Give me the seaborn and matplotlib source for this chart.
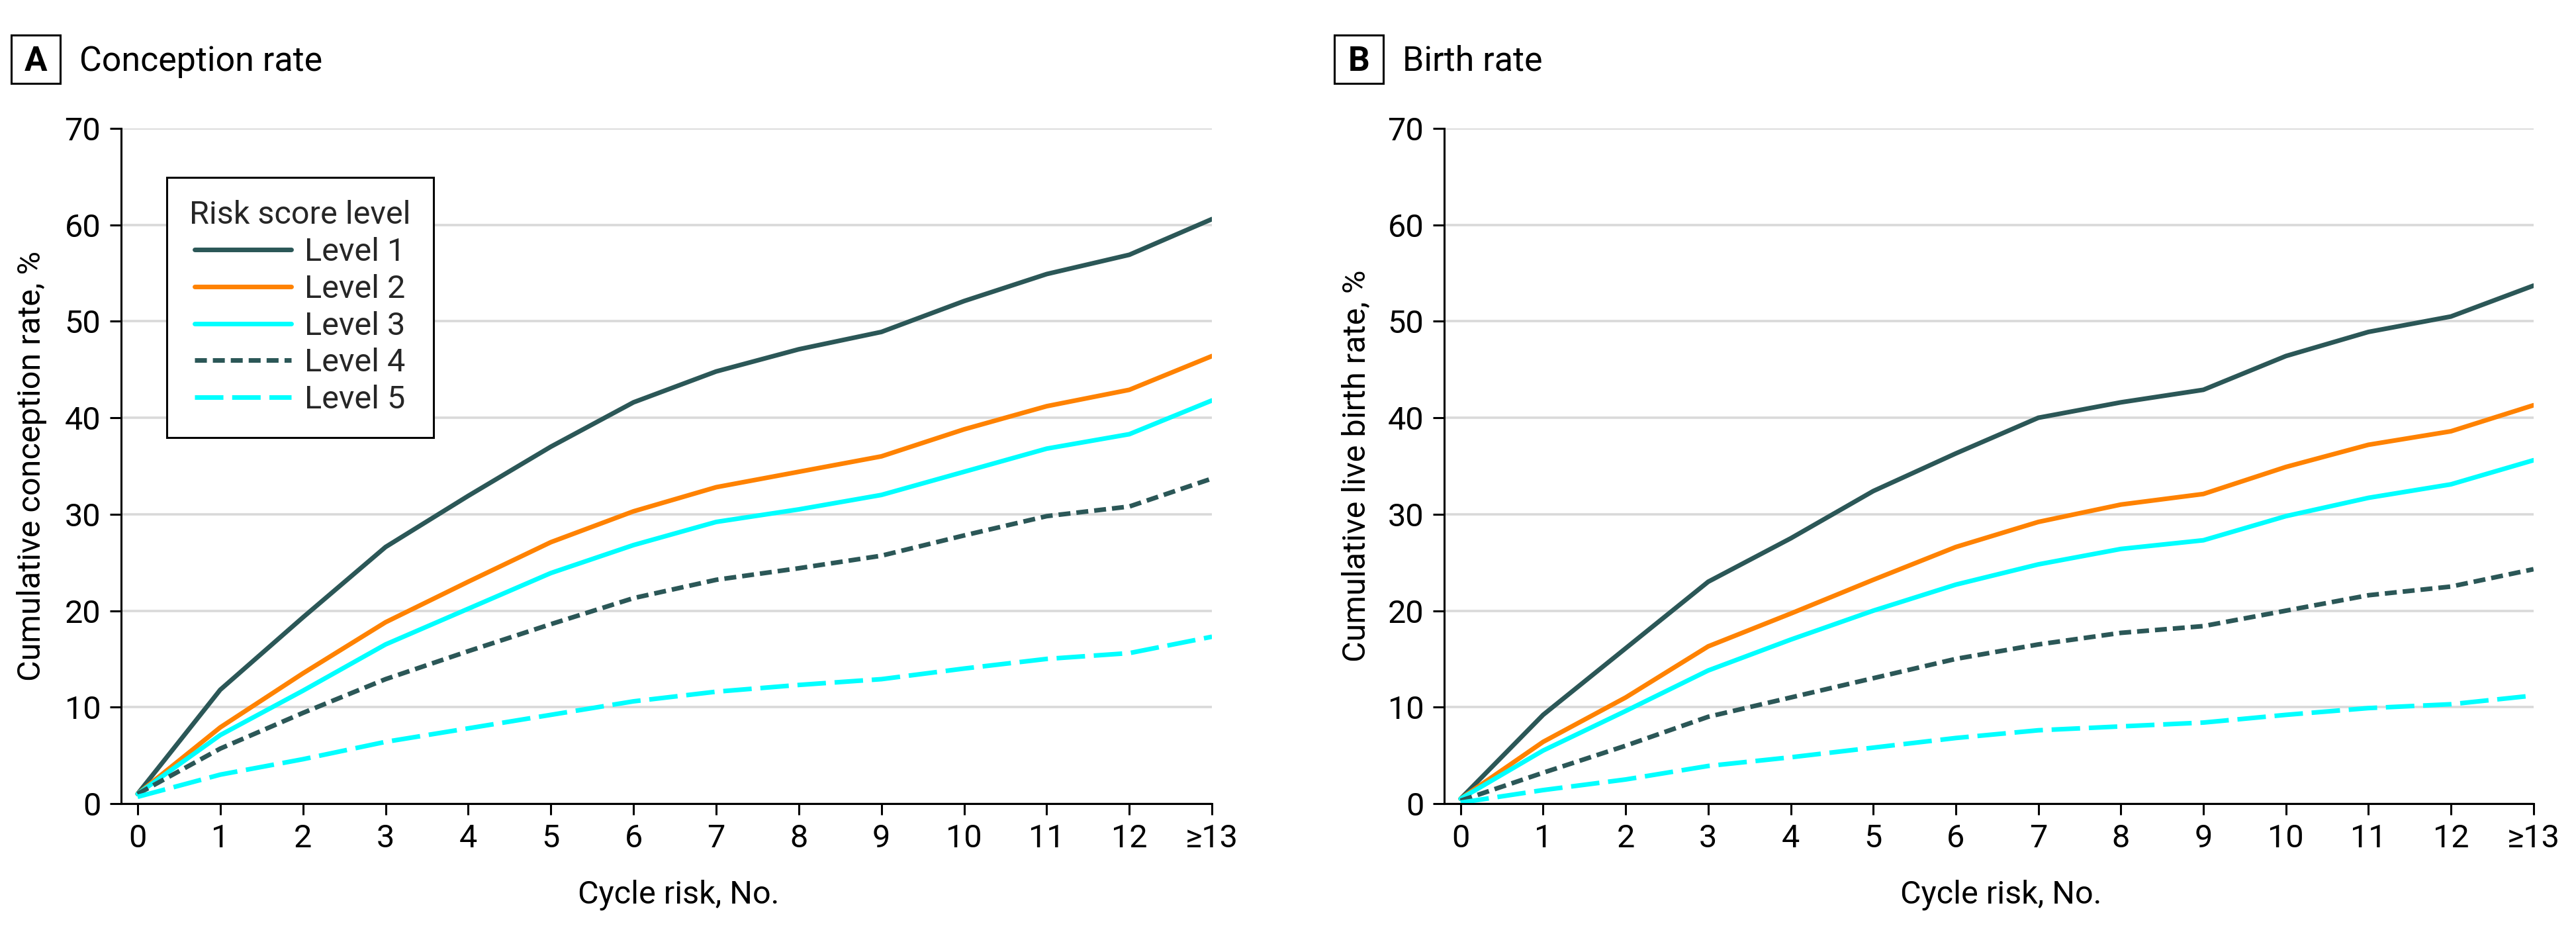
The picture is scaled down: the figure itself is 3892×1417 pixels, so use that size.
import numpy as np
import pandas as pd
import seaborn as sns
import matplotlib.pyplot as plt
from matplotlib.lines import Line2D
from matplotlib.patches import Rectangle

sns.set_theme(style="ticks")
plt.rcParams["font.family"] = ["Roboto", "DejaVu Sans"]

# data ------------------------------------------------------------------------
cycles = list(range(14))
cycle_labels = ["0", "1", "2", "3", "4", "5", "6", "7", "8", "9", "10", "11", "12", "≥13"]
levels = ["Level 1", "Level 2", "Level 3", "Level 4", "Level 5"]

conc_l1 = [1.0, 11.8, 19.3, 26.6, 31.9, 37.0, 41.6, 44.8, 47.1, 48.9, 52.1, 54.9, 56.9, 60.6]
conc_l2 = [1.0, 7.9, 13.5, 18.8, 23.0, 27.1, 30.3, 32.8, 34.4, 36.0, 38.8, 41.2, 42.9, 46.4]
conc_l3 = [1.0, 7.1, 11.7, 16.5, 20.2, 23.9, 26.8, 29.2, 30.5, 32.0, 34.4, 36.8, 38.3, 41.8]
conc_l4 = [1.0, 5.7, 9.4, 12.9, 15.8, 18.6, 21.3, 23.2, 24.4, 25.7, 27.8, 29.8, 30.8, 33.7]
conc_l5 = [0.7, 3.0, 4.6, 6.4, 7.8, 9.2, 10.6, 11.6, 12.3, 12.9, 14.0, 15.0, 15.6, 17.3]

birth_l1 = [0.5, 9.2, 16.1, 23.0, 27.5, 32.4, 36.3, 40.0, 41.6, 42.9, 46.4, 48.9, 50.5, 53.7]
birth_l2 = [0.5, 6.4, 11.0, 16.3, 19.7, 23.2, 26.6, 29.2, 31.0, 32.1, 34.9, 37.2, 38.6, 41.3]
birth_l3 = [0.5, 5.5, 9.6, 13.8, 17.0, 20.0, 22.7, 24.8, 26.4, 27.3, 29.8, 31.7, 33.1, 35.6]
birth_l4 = [0.3, 3.2, 6.0, 9.0, 11.0, 13.0, 15.0, 16.5, 17.7, 18.4, 20.0, 21.6, 22.5, 24.3]
birth_l5 = [0.1, 1.4, 2.5, 3.9, 4.8, 5.8, 6.8, 7.6, 8.0, 8.4, 9.2, 9.9, 10.3, 11.2]

# styles ------------------------------------------------------------------------
DARK, ORANGE, CYAN = "#2b5757", "#ff8200", "#00ffff"
palette = {"Level 1": DARK, "Level 2": ORANGE, "Level 3": CYAN, "Level 4": DARK, "Level 5": CYAN}
dashes = {"Level 1": "", "Level 2": "", "Level 3": "", "Level 4": (2.6, 1.3), "Level 5": (6.2, 1.9)}
LW = 2.5
FS = 17.5


def long_df(series):
    rows = []
    for lev, vals in zip(levels, series):
        for c, v in zip(cycles, vals):
            rows.append({"cycle": c, "rate": v, "level": lev})
    return pd.DataFrame(rows)


conc = long_df([conc_l1, conc_l2, conc_l3, conc_l4, conc_l5])
birth = long_df([birth_l1, birth_l2, birth_l3, birth_l4, birth_l5])

fig = plt.figure(figsize=(19.46, 7.085), dpi=200)
axA = fig.add_axes([0.0470, 0.1433, 0.4235, 0.7198])
axB = fig.add_axes([0.5606, 0.1433, 0.4229, 0.7198])

panels = [
    (axA, conc, "Cumulative conception rate, %", "A", "Conception rate", 0.00437, -0.068),
    (axB, birth, "Cumulative live birth rate, %", "B", "Birth rate", 0.5180, -0.066),
]

for ax, df, ylab, letter, title, bx, ylx in panels:
    sns.lineplot(data=df, x="cycle", y="rate", hue="level", style="level",
                 palette=palette, dashes=dashes, hue_order=levels, style_order=levels,
                 lw=LW, legend=False, ax=ax)
    ax.set_xlim(-0.2, 13)
    ax.set_ylim(0, 70)
    ax.set_xticks(cycles)
    ax.set_xticklabels(cycle_labels)
    ax.set_yticks(range(0, 71, 10))
    ax.grid(axis="y", color="#d9d9d9", lw=1.3)
    ax.grid(axis="x", visible=False)
    ax.set_axisbelow(True)
    sns.despine(ax=ax)
    for s in ("left", "bottom"):
        ax.spines[s].set_linewidth(1.1)
        ax.spines[s].set_color("black")
    ax.tick_params(axis="both", direction="out", length=6, width=1.1, color="black",
                   labelsize=FS, labelcolor="black", pad=5)
    ax.set_xlabel("Cycle risk, No.", fontsize=FS, color="black", va="top")
    ax.xaxis.set_label_coords(0.511, -0.112)
    ax.set_ylabel(ylab, fontsize=FS, color="black")
    ax.yaxis.set_label_coords(ylx, 0.5)

    # panel letter box + title
    fig.patches.append(Rectangle((bx, 0.9111), 0.0190, 0.0515, transform=fig.transFigure,
                                 fill=False, ec="black", lw=1.1))
    fig.text(bx + 0.0095, 0.9245, letter, ha="center", va="baseline",
             fontsize=18.5, fontweight="bold", color="black")
    fig.text(bx + 0.0265, 0.9245, title, ha="left", va="baseline",
             fontsize=18.7, color="black")

handles = []
for l in levels:
    h = Line2D([], [], color=palette[l], lw=LW)
    if dashes[l]:
        h.set_dashes(dashes[l])
    handles.append(h)
leg = axA.legend(handles, levels, title="Risk score level", loc="upper left",
                 bbox_to_anchor=(0.0419, 0.927), borderaxespad=0, fontsize=FS,
                 title_fontsize=FS, frameon=True, fancybox=False, framealpha=1,
                 edgecolor="black", borderpad=0.7, labelspacing=0.2,
                 handlelength=3.0, handletextpad=0.4)
leg.get_frame().set_linewidth(1.1)

fig.savefig("out.png", dpi=200, facecolor="white")
